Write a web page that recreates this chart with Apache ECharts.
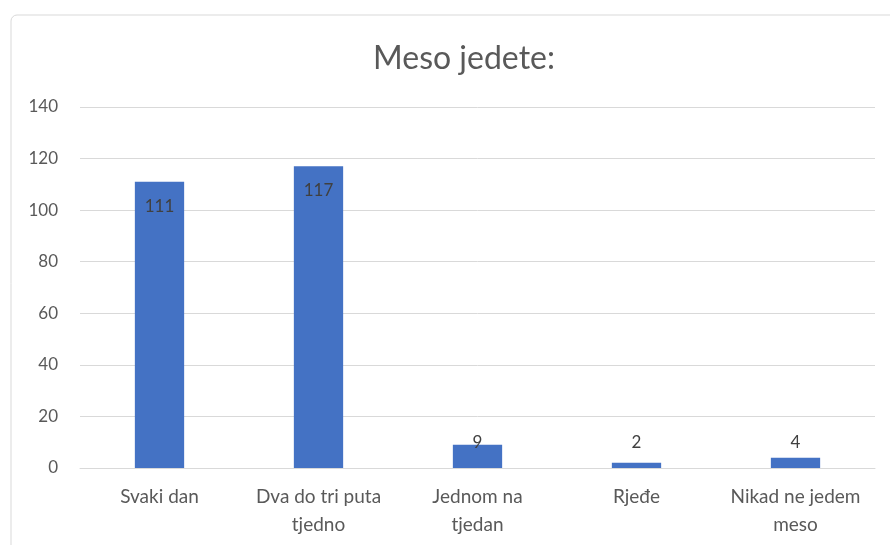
<!DOCTYPE html>
<html>
<head>
<meta charset="utf-8">
<script src="https://cdn.jsdelivr.net/npm/echarts@6/dist/echarts.min.js"></script>
<style>
html,body{margin:0;padding:0;background:#fff;}
#chart{width:890px;height:545px;}
</style>
</head>
<body>
<div id="chart"></div>
<script>
const titleText = 'Meso jedete:';
const categories = ['Svaki dan', 'Dva do tri puta\ntjedno', 'Jednom na\ntjedan', 'Rjeđe', 'Nikad ne jedem\nmeso'];
const values = [111, 117, 9, 2, 4];
const yTicks = [0, 20, 40, 60, 80, 100, 120, 140];

const font = 'Lato, "Liberation Sans", sans-serif';
const chart = echarts.init(document.getElementById('chart'), null, {renderer: 'canvas'});

const data = values.map(v => ({
  value: v,
  label: v > 50
    ? {position: 'insideTop', distance: 16}
    : {position: 'insideBottom', distance: 17}
}));

chart.setOption({
  animation: false,
  backgroundColor: '#ffffff',
  graphic: [{
    type: 'rect',
    shape: {x: 11, y: 15, width: 900, height: 560, r: 6},
    style: {fill: 'none', stroke: '#d9d9d9', lineWidth: 1},
    z: -1
  }],
  title: {
    text: titleText,
    left: 459,
    textAlign: 'center',
    top: 38,
    textStyle: {fontFamily: font, fontSize: 32, fontWeight: 'normal', color: '#595959'}
  },
  grid: {left: 80, right: 15, top: 107, bottom: 77, containLabel: false},
  xAxis: {
    type: 'category',
    data: categories,
    axisLine: {show: true, lineStyle: {color: '#d9d9d9', width: 1}},
    axisTick: {show: false},
    axisLabel: {
      interval: 0, margin: 15, color: '#595959', fontFamily: font, fontSize: 19, lineHeight: 28
    }
  },
  yAxis: {
    type: 'value',
    min: yTicks[0],
    max: yTicks[yTicks.length - 1],
    interval: yTicks[1] - yTicks[0],
    axisLine: {show: false},
    axisTick: {show: false},
    splitLine: {lineStyle: {color: '#d9d9d9', width: 1}},
    axisLabel: {margin: 22, color: '#595959', fontFamily: font, fontSize: 17}
  },
  series: [{
    type: 'bar',
    data: data,
    barWidth: '31%',
    itemStyle: {color: '#4472C4'},
    label: {show: true, color: '#404040', fontFamily: font, fontSize: 17}
  }]
});
</script>
</body>
</html>
